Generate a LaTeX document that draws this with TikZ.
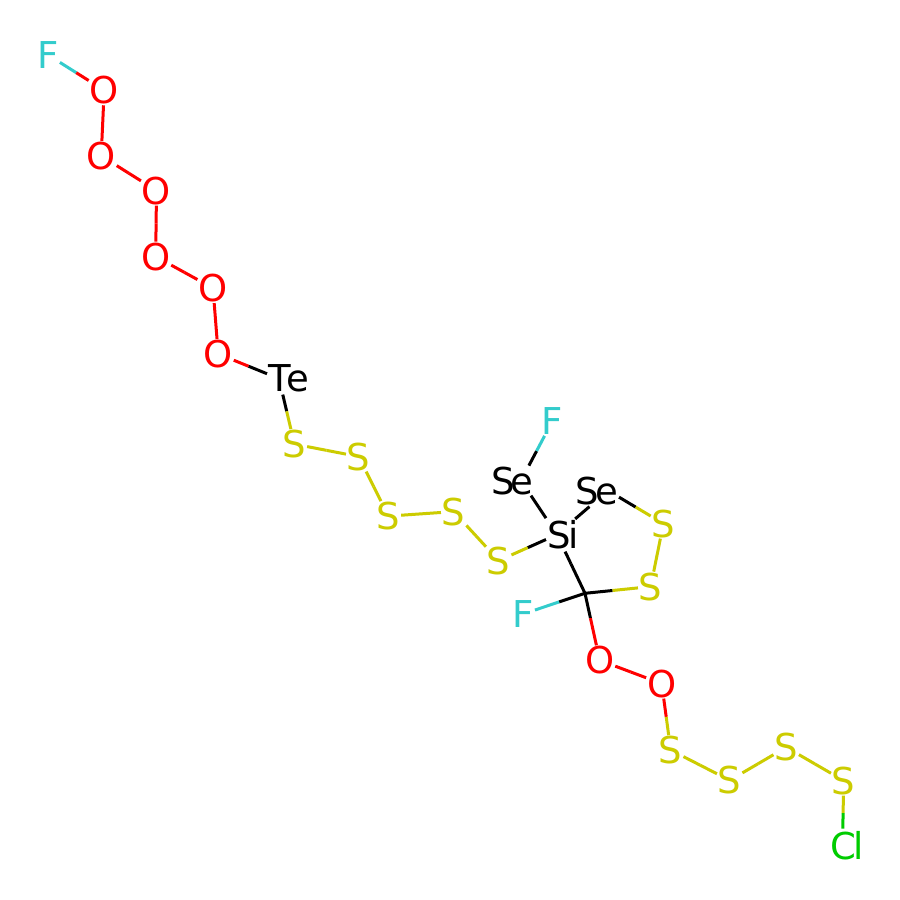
\documentclass[tikz,border=0pt]{standalone}
\usepackage{fontspec}
\setmainfont{DejaVu Sans}
\usetikzlibrary{calc}
\definecolor{colF}{HTML}{33CCCC}
\definecolor{colO}{HTML}{FF0000}
\definecolor{colS}{HTML}{CCCC00}
\definecolor{colCl}{HTML}{00CC00}
\definecolor{colK}{HTML}{000000}
\begin{document}
\begin{tikzpicture}[x=1pt, y=-1pt, line width=3pt,
        every node/.append style={font=\fontsize{37}{37}\selectfont, inner sep=1pt, outer sep=0pt, yshift=-0.6pt}]
      \tikzstyle{atomF} = [color=colF, xshift=0.7pt]
      \tikzstyle{atomO} = [color=colO, xshift=1.4pt]
      \tikzstyle{atomS} = [color=colS, xshift=1.4pt]
      \tikzstyle{atomCl} = [color=colCl]
      \tikzstyle{atomK} = [color=colK]
      \useasboundingbox [fill=white] (0,0) rectangle (900,900);
      % chain at the top
      \node (F1) [atomF] at (47.6,54.5) {F};
      \node (O1) [atomO] at (102.8,89.7) {O};
      \node (O2) [atomO] at (99.8,155.3) {O};
      \node (O3) [atomO] at (155.1,190) {O};
      \node (O4) [atomO] at (154.3,256) {O};
      \node (O5) [atomO] at (211.6,287.5) {O};
      \node (O6) [atomO] at (216.8,353.3) {O};
      \node (Te) [atomK, minimum height=32pt] at (279,378) {\makebox[22pt][l]{T\kern-4pt e}};
      \node (S1) [atomS] at (293,443.5) {S};
      \node (S2) [atomS] at (357.3,456) {S};
      \node (S3) [atomS] at (387,515.5) {S};
      \node (S4) [atomS] at (452.3,511) {S};
      \node (S5) [atomS] at (497.3,560) {S};
      % ring
      \node (Si) [atomK, minimum height=34pt] at (557,534) {\makebox[20pt][l]{S\kern-2.5pt i}};
      \node (Se1) [atomK, minimum height=30pt] at (521,480) {\makebox[25pt][r]{S\kern-4pt e}};
      \node (F2) [atomF] at (551.5,420.8) {F};
      \node (Se2) [atomK, minimum height=32pt] at (608,490) {\makebox[20pt][r]{S\kern-4pt e}};
      \node (S6) [atomS] at (662,523) {S};
      \node (S7) [atomS] at (649.3,586) {S};
      \coordinate (C) at (585,592.7);
      \node (F3) [atomF] at (522.6,613.3) {F};
      % chain at the bottom
      \node (O7) [atomO] at (598.3,659.7) {O};
      \node (O8) [atomO] at (660.3,683) {O};
      \node (S8) [atomS] at (669.3,749.5) {S};
      \node (S9) [atomS] at (728.3,779.7) {S};
      \node (S10) [atomS] at (784.8,746.7) {S};
      \node (S11) [atomS] at (842.3,780) {S};
      \node (Cl) [atomCl, minimum height=34pt] at (842.5,845) {\makebox[24pt][l]{C\kern-3pt l}};
      % each bond has two halves
      \foreach \a/\ca/\b/\cb in {F1/colF/O1/colO, O1/colO/O2/colO, O2/colO/O3/colO,
          O3/colO/O4/colO, O4/colO/O5/colO, O5/colO/O6/colO, O6/colO/Te/colK,
          Te/colK/S1/colS, S1/colS/S2/colS, S2/colS/S3/colS, S3/colS/S4/colS,
          S4/colS/S5/colS, S5/colS/Si/colK, Si/colK/Se1/colK, Se1/colK/F2/colF,
          Se2/colK/S6/colS, S6/colS/S7/colS,
          C/colK/Si/colK, O7/colO/O8/colO,
          O8/colO/S8/colS, S8/colS/S9/colS, S9/colS/S10/colS, S10/colS/S11/colS,
          S11/colS/Cl/colCl}
      {
        \draw [color=\ca] (\a) -- ($(\a)!.5!(\b)$);
        \draw [color=\cb] ($(\a)!.5!(\b)$) -- (\b);
      }
      % bonds from the bare carbon change colour nearer to it
      \foreach \b/\cb/\f in {S7/colS/.42, F3/colF/.42, O7/colO/.37}
      {
        \draw [color=colK] (C) -- ($(C)!\f!(\b)$);
        \draw [color=\cb] ($(C)!\f!(\b)$) -- (\b);
      }
      \draw [color=colK, shorten <=10pt, shorten >=9.5pt] (Se2) -- (Si);
    \end{tikzpicture}
\end{document}
